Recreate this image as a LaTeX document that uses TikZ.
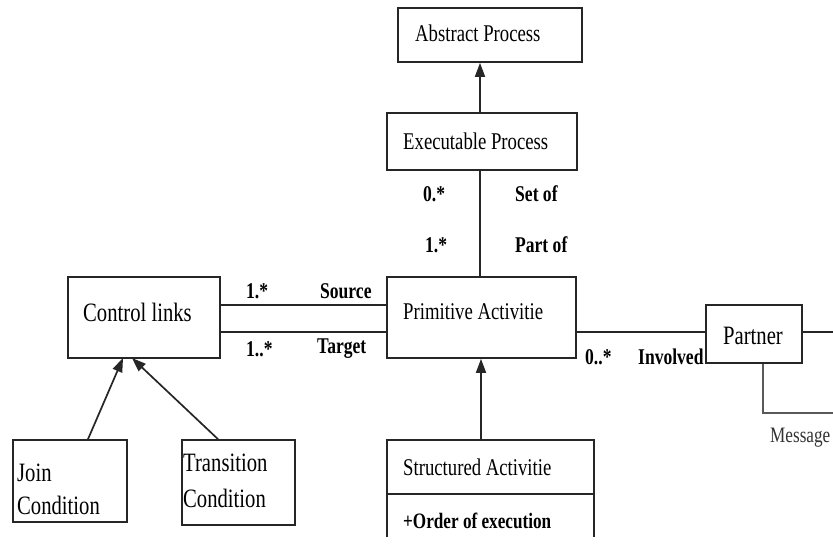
\documentclass[tikz,border=0pt]{standalone}
\usepackage{fontspec}
\setmainfont{Liberation Serif}[FakeStretch=0.78]
\usetikzlibrary{arrows.meta}
\begin{document}
\begin{tikzpicture}[x=1pt,y=-1pt,
  box/.style={draw=black!85, line width=1.7pt, inner sep=0pt},
  txt/.style={inner sep=0pt, anchor=west, font=\fontsize{24}{28}\selectfont},
  bigtxt/.style={inner sep=0pt, anchor=west, font=\fontsize{26.5}{31}\selectfont},
  lbl/.style={inner sep=0pt, anchor=west, font=\bfseries\fontsize{22.5}{26}\selectfont},
  conn/.style={draw=black!85, line width=1.7pt},
  gen/.style={conn, -{Triangle[width=10pt,length=14pt]}}]
\useasboundingbox (0,0) rectangle (833,546);
\clip (0,0) rectangle (833,546);
\fill[white] (0,0) rectangle (833,546);

% helper coordinates
\coordinate (vx) at (480,0);
\coordinate (ys) at (0,305);
\coordinate (yt) at (0,332);
\coordinate (rp) at (840,332);
\coordinate (rm) at (840,413);

% boxes
\node[box, minimum width=184pt, minimum height=54pt] (abs) at (490,35) {};
\node[txt] (abst) at (415,33) {Abstract Process};

\node[box, minimum width=190pt, minimum height=57pt] (exe) at (482,141.5) {};
\node[txt] (exet) at (403,141) {Executable Process};

\node[box, minimum width=189pt, minimum height=81pt] (prim) at (481.5,317.5) {};
\node[txt] (primt) at (403,312) {Primitive Activitie};

\node[box, minimum width=152pt, minimum height=81pt] (ctrl) at (144,317.5) {};
\node[bigtxt] (ctrlt) at (83,312) {Control links};

\node[box, minimum width=114pt, minimum height=82pt] (join) at (70,481) {};
\node[bigtxt] (joint1) at (17,473) {Join};
\node[bigtxt] (joint2) at (17,505) {Condition};

\node[box, minimum width=113pt, minimum height=85pt] (trans) at (238.5,482.5) {};
\node[bigtxt] (transt1) at (183,463) {Transition};
\node[bigtxt] (transt2) at (183,498) {Condition};

\node[inner sep=0pt, minimum width=207pt, minimum height=97pt] (struct) at (490.5,488.5) {};
\draw[conn] (struct.south west) -- (struct.north west) -- (struct.north east) -- (struct.south east);
\coordinate (dv) at (0,494);
\draw[conn] (struct.west |- dv) -- (struct.east |- dv);
\node[txt] (structt) at (403,467) {Structured Activitie};
\node[lbl, font=\bfseries\fontsize{22}{26}\selectfont] (ordert) at (403,521) {+Order of execution};

\node[box, minimum width=96pt, minimum height=58pt] (partner) at (754,334) {};
\node[bigtxt, anchor=center] (partnert) at (753,336) {Partner};

% connectors
\draw[gen] (exe.north -| vx) -- (abs.south -| vx);
\draw[conn] (prim.north -| vx) -- (exe.south -| vx);
\coordinate (vs) at (481,0);
\draw[gen] (struct.north -| vs) -- (prim.south -| vs);

\draw[conn] (ctrl.east |- ys) -- (prim.west |- ys);
\draw[conn] (ctrl.east |- yt) -- (prim.west |- yt);

\coordinate (jb) at (88,440);
\coordinate (jt) at (123,358);
\coordinate (tb) at (218,440);
\coordinate (tt) at (132,358);
\draw[gen] (join.north -| jb) -- (jt);
\draw[gen] (trans.north -| tb) -- (tt);

\draw[conn] (prim.east |- yt) -- (partner.west |- yt);
\draw[conn] (partner.east |- yt) -- (rp);
\coordinate (pm) at (763,413);
\draw[conn, draw=black!65] (partner.south -| pm) -- (pm) -- (rm);

% labels
\node[lbl] (l1) at (423,194) {0.*};
\node[lbl] (l2) at (515,194) {Set of};
\node[lbl] (l3) at (425,245) {1.*};
\node[lbl] (l4) at (515,245) {Part of};
\node[lbl] (l5) at (246,291) {1.*};
\node[lbl] (l6) at (320,291) {Source};
\node[lbl] (l7) at (246,349) {1..*};
\node[lbl] (l8) at (317,349) {Target};
\node[lbl] (l9) at (585,357) {0..*};
\node[lbl] (l10) at (638,357) {Involved};
\node[txt, font=\fontsize{22}{26}\selectfont, text=black!80] (msg) at (770,438) {Message};
\end{tikzpicture}
\end{document}
